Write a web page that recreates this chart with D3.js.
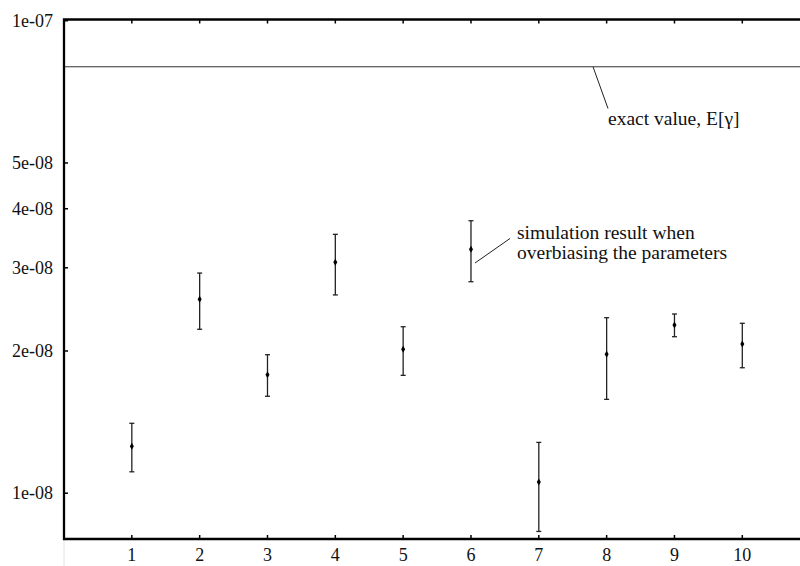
<!DOCTYPE html>
<html>
<head>
<meta charset="utf-8">
<script src="https://cdn.jsdelivr.net/npm/d3@7"></script>
<style>
  body { margin: 0; background: #fff; }
  text { font-family: "Liberation Serif", "Times New Roman", serif; fill: #111; }
</style>
</head>
<body>
<script>
  // run index and simulated estimate with its error bar
  var runs  = [1, 2, 3, 4, 5, 6, 7, 8, 9, 10];
  var means = [1.257e-8, 2.573e-8, 1.781e-8, 3.081e-8, 2.017e-8, 3.282e-8, 1.056e-8, 1.968e-8, 2.270e-8, 2.069e-8];
  var lower = [1.110e-8, 2.223e-8, 1.604e-8, 2.628e-8, 1.776e-8, 2.803e-8, 8.30e-9, 1.580e-8, 2.144e-8, 1.843e-8];
  var upper = [1.406e-8, 2.924e-8, 1.964e-8, 3.531e-8, 2.251e-8, 3.773e-8, 1.281e-8, 2.352e-8, 2.395e-8, 2.289e-8];
  var exactValue = 7.99e-8;

  var yTicks = [1e-8, 2e-8, 3e-8, 4e-8, 5e-8, 1e-7];
  var yTickLabels = ['1e-08', '2e-08', '3e-08', '4e-08', '5e-08', '1e-07'];
  var xTicks = [1, 2, 3, 4, 5, 6, 7, 8, 9, 10];

(function() {
  'use strict';

  var w = 800, h = 566;
  var plotLeft = 64, plotTop = 19.5, plotBottom = 539;

  var svg = d3.select('body').append('svg')
    .attr('width', w)
    .attr('height', h);

  var x = d3.scaleLinear().domain([0, 11]).range([plotLeft, plotLeft + 11 * 67.83]);
  var y = d3.scaleLog().domain([8e-9, 1.006e-7]).range([plotBottom, plotTop]);

  // faint guide below the left axis
  svg.append('line')
    .attr('x1', plotLeft).attr('x2', plotLeft)
    .attr('y1', plotBottom).attr('y2', h)
    .attr('stroke', '#e4e4e4');

  // exact value line
  svg.append('line')
    .attr('x1', plotLeft).attr('x2', w)
    .attr('y1', y(exactValue)).attr('y2', y(exactValue))
    .attr('stroke', '#333').attr('stroke-width', 1);

  // error bars
  var bars = svg.selectAll('g.bar')
    .data(runs)
    .enter()
    .append('g')
    .attr('class', 'bar');

  bars.append('line')
    .attr('x1', function(d) { return x(d); })
    .attr('x2', function(d) { return x(d); })
    .attr('y1', function(d, i) { return y(lower[i]); })
    .attr('y2', function(d, i) { return y(upper[i]); })
    .attr('stroke', '#222').attr('stroke-width', 1.3);

  [lower, upper].forEach(function(arr) {
    bars.append('line')
      .attr('x1', function(d) { return x(d) - 2.5; })
      .attr('x2', function(d) { return x(d) + 2.5; })
      .attr('y1', function(d, i) { return y(arr[i]); })
      .attr('y2', function(d, i) { return y(arr[i]); })
      .attr('stroke', '#222').attr('stroke-width', 1.3);
  });

  bars.append('path')
    .attr('d', d3.symbol().type(d3.symbolDiamond).size(14))
    .attr('transform', function(d, i) {
      return 'translate(' + x(d) + ',' + y(means[i]) + ')';
    })
    .attr('fill', '#000');

  // frame: left, top, bottom (right side is beyond the window)
  svg.append('path')
    .attr('d', 'M' + w + ',' + plotTop + 'H' + plotLeft + 'V' + plotBottom + 'H' + w)
    .attr('fill', 'none')
    .attr('stroke', '#000')
    .attr('stroke-width', 2.3);

  // y ticks
  svg.selectAll('line.ytick')
    .data(yTicks)
    .enter()
    .append('line')
    .attr('class', 'ytick')
    .attr('x1', plotLeft).attr('x2', plotLeft + 4)
    .attr('y1', function(d) { return y(d); })
    .attr('y2', function(d) { return y(d); })
    .attr('stroke', '#000').attr('stroke-width', 1.5);

  svg.selectAll('text.ylab')
    .data(yTicks)
    .enter()
    .append('text')
    .attr('class', 'ylab')
    .attr('x', 53)
    .attr('y', function(d) { return y(d) + 6; })
    .attr('text-anchor', 'end')
    .attr('font-size', '18px')
    .text(function(d, i) { return yTickLabels[i]; });

  // x ticks on top and bottom
  [[plotTop, 4], [plotBottom, -4]].forEach(function(t) {
    svg.selectAll(null)
      .data(xTicks)
      .enter()
      .append('line')
      .attr('x1', function(d) { return x(d); })
      .attr('x2', function(d) { return x(d); })
      .attr('y1', t[0])
      .attr('y2', t[0] + t[1])
      .attr('stroke', '#000').attr('stroke-width', 1.5);
  });

  svg.selectAll('text.xlab')
    .data(xTicks)
    .enter()
    .append('text')
    .attr('class', 'xlab')
    .attr('x', function(d) { return x(d); })
    .attr('y', 561)
    .attr('text-anchor', 'middle')
    .attr('font-size', '18px')
    .text(function(d) { return d; });

  // annotations
  svg.append('line')
    .attr('x1', 593).attr('y1', y(exactValue))
    .attr('x2', 608).attr('y2', 108.5)
    .attr('stroke', '#222').attr('stroke-width', 1);

  svg.append('text')
    .attr('x', 608).attr('y', 124.5)
    .attr('font-size', '19.5px')
    .text('exact value, E[\u03b3]');

  svg.append('line')
    .attr('x1', x(6) + 4).attr('y1', 263)
    .attr('x2', 510).attr('y2', 238.5)
    .attr('stroke', '#222').attr('stroke-width', 1);

  var ann = svg.append('text')
    .attr('x', 517).attr('y', 239)
    .attr('font-size', '19.5px');
  ann.append('tspan').attr('x', 517).text('simulation result when');
  ann.append('tspan').attr('x', 517).attr('dy', 20).text('overbiasing the parameters');
})();
</script>
</body>
</html>
